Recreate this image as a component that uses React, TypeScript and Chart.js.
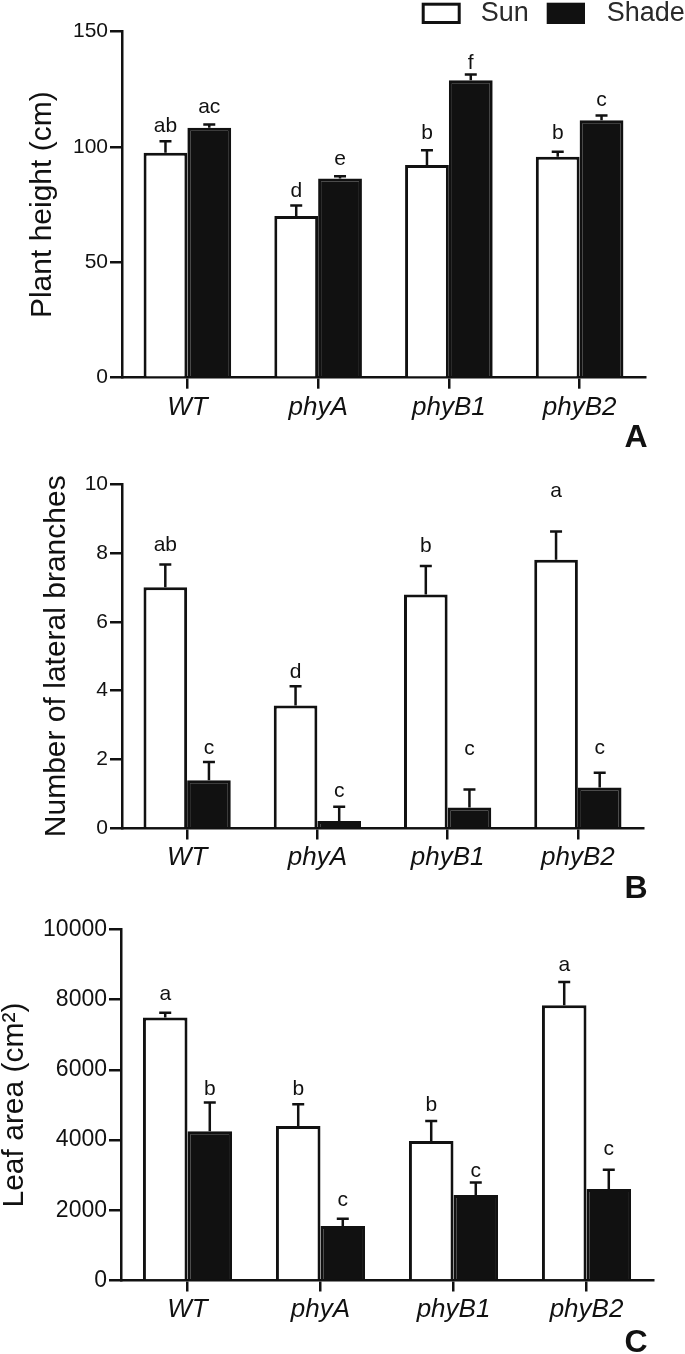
import React, { useEffect, useRef } from "react";
import { Chart, registerables } from "chart.js";

Chart.register(...registerables);

// ---------- data ----------
const categories = ["WT", "phyA", "phyB1", "phyB2"];
const seriesNames = ["Sun", "Shade"];

// Panel A – plant height (cm)
const heightSun = [97.5, 70.1, 92.2, 95.8];
const heightSunErr = [5.0, 4.5, 6.4, 2.2];
const heightShade = [108.4, 86.4, 128.9, 111.6];
const heightShadeErr = [1.4, 0.9, 2.5, 2.1];
const heightSunLetters = ["ab", "d", "b", "b"];
const heightShadeLetters = ["ac", "e", "f", "c"];
const heightSunLetterAt = [106.6, 78.5, 103.3, 103.3];
const heightShadeLetterAt = [114.6, 92.2, 133.7, 117.8];
const heightTicks = [0, 50, 100, 150];

// Panel B – number of lateral branches
const branchSun = [7.0, 3.57, 6.79, 7.8];
const branchSunErr = [0.66, 0.56, 0.83, 0.82];
const branchShade = [1.4, 0.22, 0.61, 1.19];
const branchShadeErr = [0.53, 0.41, 0.52, 0.43];
const branchSunLetters = ["ab", "d", "b", "a"];
const branchShadeLetters = ["c", "c", "c", "c"];
const branchSunLetterAt = [8.05, 4.38, 8.04, 9.61];
const branchShadeLetterAt = [2.17, 0.92, 2.13, 2.17];
const branchTicks = [0, 2, 4, 6, 8, 10];

// Panel C – leaf area (cm²)
const leafSun = [7490, 4400, 3975, 7840];
const leafSunErr = [135, 620, 570, 665];
const leafShade = [4250, 1550, 2435, 2605];
const leafShadeErr = [820, 210, 360, 550];
const leafSunLetters = ["a", "b", "b", "a"];
const leafShadeLetters = ["b", "c", "c", "c"];
const leafSunLetterAt = [7985, 5276, 4829, 8822];
const leafShadeLetterAt = [5276, 2110, 2947, 3565];
const leafTicks = [0, 2000, 4000, 6000, 8000, 10000];

// ---------- styling / layout ----------
const FONT = "'Liberation Sans', Arial, Helvetica, sans-serif";
const INK = "#111111";
const W = 685;
const X_AXIS_H = 60;

const panels = [
  {
    key: "A",
    top: 0,
    height: 450,
    area: { top: 31.7, bottom: 377.7, left: 122, right: 645 },
    title: "Plant height (cm)",
    titlePad: 28,
    tickSize: 21,
    sun: heightSun, sunErr: heightSunErr, shade: heightShade, shadeErr: heightShadeErr,
    sunLetters: heightSunLetters, shadeLetters: heightShadeLetters,
    sunLetterAt: heightSunLetterAt, shadeLetterAt: heightShadeLetterAt,
    ticks: heightTicks,
    legend: true,
    letterY: 446.7,
  },
  {
    key: "B",
    top: 450,
    height: 450,
    area: { top: 34, bottom: 378.5, left: 122, right: 643 },
    title: "Number of lateral branches",
    titlePad: 42,
    tickSize: 21,
    sun: branchSun, sunErr: branchSunErr, shade: branchShade, shadeErr: branchShadeErr,
    sunLetters: branchSunLetters, shadeLetters: branchShadeLetters,
    sunLetterAt: branchSunLetterAt, shadeLetterAt: branchShadeLetterAt,
    ticks: branchTicks,
    legend: false,
    letterY: 448,
  },
  {
    key: "C",
    top: 900,
    height: 454,
    area: { top: 29.5, bottom: 380.5, left: 121, right: 653 },
    title: "Leaf area (cm\u00B2)",
    titlePad: 0,
    tickSize: 23,
    sun: leafSun, sunErr: leafSunErr, shade: leafShade, shadeErr: leafShadeErr,
    sunLetters: leafSunLetters, shadeLetters: leafShadeLetters,
    sunLetterAt: leafSunLetterAt, shadeLetterAt: leafShadeLetterAt,
    ticks: leafTicks,
    legend: false,
    letterY: 452,
  },
];

const annotPlugin = {
  id: "annot",
  afterDatasetsDraw(chart: any, _args: any, opts: any) {
    const ctx = chart.ctx as CanvasRenderingContext2D;
    const y = chart.scales.y;
    ctx.save();
    chart.data.datasets.forEach((ds: any, di: number) => {
      const meta = chart.getDatasetMeta(di);
      meta.data.forEach((bar: any, i: number) => {
        const v = ds.data[i] as number;
        const topPx = y.getPixelForValue(v);
        const errPx = y.getPixelForValue(v + opts.errors[di][i]);
        ctx.strokeStyle = INK;
        ctx.lineWidth = 2.5;
        ctx.beginPath();
        ctx.moveTo(bar.x, topPx);
        ctx.lineTo(bar.x, errPx);
        ctx.moveTo(bar.x - 6, errPx);
        ctx.lineTo(bar.x + 6, errPx);
        ctx.stroke();
        ctx.fillStyle = INK;
        ctx.font = `21px ${FONT}`;
        ctx.textAlign = "center";
        ctx.textBaseline = "alphabetic";
        ctx.fillText(opts.letters[di][i], bar.x, y.getPixelForValue(opts.letterAt[di][i]));
      });
    });
    ctx.restore();
  },
  afterDraw(chart: any, _args: any, opts: any) {
    const ctx = chart.ctx as CanvasRenderingContext2D;
    ctx.save();
    // panel letter
    ctx.fillStyle = INK;
    ctx.font = `bold 32px ${FONT}`;
    ctx.textAlign = "center";
    ctx.textBaseline = "alphabetic";
    ctx.fillText(opts.panelLetter, 636, opts.letterY);
    if (opts.legend) {
      ctx.lineWidth = 3;
      ctx.strokeStyle = INK;
      ctx.fillStyle = "#ffffff";
      ctx.fillRect(423.2, 4.2, 36, 18.3);
      ctx.strokeRect(423.2, 4.2, 36, 18.3);
      ctx.fillStyle = INK;
      ctx.fillRect(546.7, 2.7, 38.3, 21.3);
      ctx.fillStyle = "#2a2a2a";
      ctx.font = `27px ${FONT}`;
      ctx.textAlign = "left";
      ctx.textBaseline = "middle";
      ctx.fillText(seriesNames[0], 480.7, 14);
      ctx.fillText(seriesNames[1], 606.7, 14);
    }
    ctx.restore();
  },
};

function Panel({ p }: { p: any }) {
  const ref = useRef<HTMLCanvasElement>(null);
  useEffect(() => {
    const canvas = ref.current!;
    const chart = new Chart(canvas, {
      type: "bar",
      data: {
        labels: categories,
        datasets: [
          {
            label: seriesNames[0],
            data: p.sun,
            backgroundColor: "#ffffff",
            borderColor: INK,
            borderWidth: 3,
          },
          {
            label: seriesNames[1],
            data: p.shade,
            backgroundColor: INK,
            borderColor: INK,
            borderWidth: 3,
          },
        ],
      },
      options: {
        responsive: false,
        animation: false,
        devicePixelRatio: 1,
        events: [],
        datasets: { bar: { categoryPercentage: 0.67, barPercentage: 1 } },
        layout: {
          padding: {
            top: p.area.top,
            bottom: p.height - p.area.bottom - X_AXIS_H,
            left: 0,
            right: W - p.area.right,
          },
        },
        plugins: {
          legend: { display: false },
          tooltip: { enabled: false },
          annot: {
            errors: [p.sunErr, p.shadeErr],
            letters: [p.sunLetters, p.shadeLetters],
            letterAt: [p.sunLetterAt, p.shadeLetterAt],
            panelLetter: p.key,
            letterY: p.letterY,
            legend: p.legend,
          },
        } as any,
        scales: {
          x: {
            type: "category",
            offset: true,
            grid: {
              display: true,
              drawOnChartArea: false,
              drawTicks: true,
              tickLength: 11,
              offset: false,
              color: INK,
              lineWidth: 2.5,
            },
            border: { display: true, color: INK, width: 2.5 },
            ticks: {
              color: INK,
              font: { family: FONT, size: 26, style: "italic" },
              padding: 3,
              maxRotation: 0,
              autoSkip: false,
            },
            afterFit: (s: any) => {
              s.height = X_AXIS_H;
            },
          },
          y: {
            type: "linear",
            min: p.ticks[0],
            max: p.ticks[p.ticks.length - 1],
            afterBuildTicks: (s: any) => {
              s.ticks = p.ticks.map((v: number) => ({ value: v }));
            },
            grid: {
              display: true,
              drawOnChartArea: false,
              drawTicks: true,
              tickLength: 12,
              color: INK,
              lineWidth: 2.5,
            },
            border: { display: true, color: INK, width: 2.5 },
            ticks: {
              color: INK,
              font: { family: FONT, size: p.tickSize },
              padding: 2,
              callback: (v: any) => String(v),
            },
            title: {
              display: true,
              text: p.title,
              color: INK,
              font: { family: FONT, size: 30, lineHeight: 1 },
              padding: { top: p.titlePad, bottom: 0 },
            },
            afterFit: (s: any) => {
              s.width = p.area.left;
            },
          },
        },
      },
      plugins: [annotPlugin as any],
    });
    return () => chart.destroy();
  }, []);
  return (
    <canvas
      ref={ref}
      width={W}
      height={p.height}
      style={{ position: "absolute", left: 0, top: p.top, width: W, height: p.height, display: "block" }}
    />
  );
}

export default function App() {
  return (
    <div style={{ position: "absolute", left: 0, top: 0, width: W, height: 1354, background: "#ffffff" }}>
      {panels.map((p) => (
        <Panel key={p.key} p={p} />
      ))}
    </div>
  );
}
